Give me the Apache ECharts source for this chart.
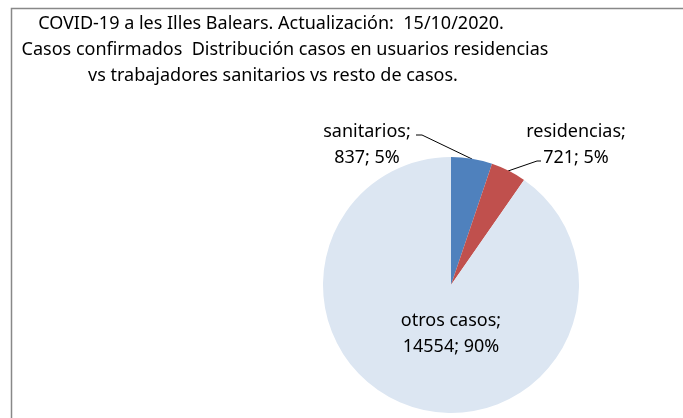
<!DOCTYPE html>
<html>
<head>
<meta charset="utf-8">
<script src="https://cdn.jsdelivr.net/npm/echarts@6/dist/echarts.min.js"></script>
<style>
  html, body { margin: 0; padding: 0; background: #fff; }
  #chart { width: 683px; height: 418px; }
</style>
</head>
<body>
<div id="chart"></div>
<script>
// datos
const categorias = ['sanitarios', 'residencias', 'otros casos']
const casos = [837, 721, 14554]
const porcentajes = ['5%', '5%', '90%']
const colores = ['#4f81bd', '#c0504d', '#dce6f2']
const titulos = [
  'COVID-19 a les Illes Balears. Actualización:  15/10/2020.',
  'Casos confirmados  Distribución casos en usuarios residencias',
  'vs trabajadores sanitarios vs resto de casos.'
]

const chart = echarts.init(document.getElementById('chart'))

const tituloX = [266, 280, 268]
const option = {
  animation: false,
  title: titulos.map((t, i) => ({
    text: t,
    left: tituloX[i],
    top: 10 + i * 26,
    textAlign: 'center',
    textStyle: { fontFamily: 'Noto Sans', fontSize: 18, fontWeight: 'normal', color: '#000' }
  })),
  graphic: [{
    type: 'rect',
    shape: { x: 11.5, y: 8.5, width: 700, height: 450 },
    style: { fill: null, stroke: '#888', lineWidth: 1.5 },
    silent: true
  }],
  series: [{
    type: 'pie',
    center: [451, 285],
    radius: 128,
    startAngle: 90,
    clockwise: true,
    color: colores,
    label: {
      formatter: p => p.name + ';\n' + p.value + '; ' + porcentajes[p.dataIndex],
      fontFamily: 'Noto Sans',
      fontSize: 18,
      lineHeight: 26,
      color: '#000',
      align: 'center',
      overflow: 'none'
    },
    labelLine: { show: true, lineStyle: { color: '#000', width: 1 } },
    labelLayout: function (params) {
      // posiciones de etiquetas como en el original
      if (params.dataIndex === 0) {
        return {
          x: 367, y: 145, align: 'center', verticalAlign: 'middle',
          labelLinePoints: [[472, 159], [422, 135], [416, 135]]
        }
      }
      if (params.dataIndex === 1) {
        return {
          x: 576, y: 145, align: 'center', verticalAlign: 'middle',
          labelLinePoints: [[508, 171], [537, 161], [541, 161]]
        }
      }
      return { x: 451, y: 334, align: 'center', verticalAlign: 'middle' }
    },
    data: categorias.map((c, i) => ({
      name: c,
      value: casos[i],
      label: i === 2 ? { position: 'inside' } : undefined,
      labelLine: i === 2 ? { show: false } : undefined
    }))
  }]
}

chart.setOption(option)
</script>
</body>
</html>
